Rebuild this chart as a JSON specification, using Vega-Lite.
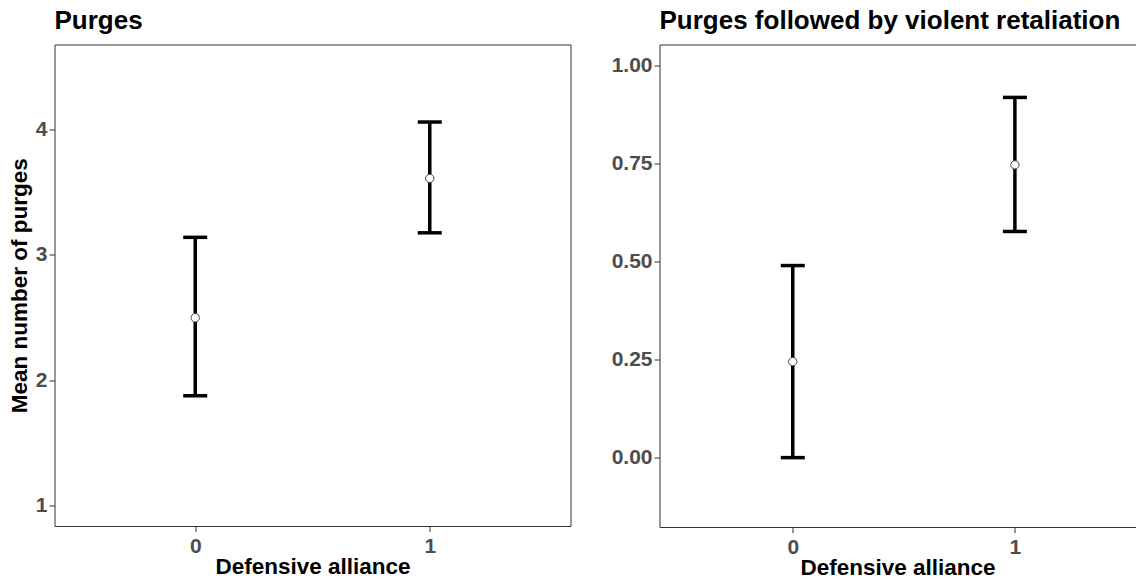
{
  "$schema": "https://vega.github.io/schema/vega-lite/v6.json",
  "padding": {"left": 7.5, "top": 6.5, "right": 0, "bottom": 0},
  "background": "white",
  "bounds": "flush",
  "spacing": 89,
  "config": {
    "font": "Liberation Sans",
    "view": {"stroke": "#333333", "strokeWidth": 1},
    "axis": {
      "grid": false,
      "labelFont": "Liberation Sans",
      "labelFontSize": 21,
      "labelFontWeight": "bold",
      "labelColor": "#4D4D4D",
      "tickColor": "#333333",
      "tickSize": 5.5,
      "tickWidth": 1,
      "domainColor": "#333333",
      "titleFont": "Liberation Sans",
      "titleFontSize": 22.5,
      "titleFontWeight": "bold",
      "titleColor": "#000000"
    },
    "axisY": {"labelPadding": 2, "titlePadding": 4},
    "axisX": {"labelPadding": 3.5, "titlePadding": -0.5},
    "title": {"font": "Liberation Sans", "fontSize": 26, "fontWeight": "bold", "color": "#000000", "anchor": "start", "frame": "group", "baseline": "alphabetic", "offset": 11}
  },
  "hconcat": [
    {
      "width": 516,
      "height": 481.5,
      "title": {"text": "Purges"},
      "data": {"values": [
        {"alliance": 0, "mean": 2.498, "lo": 1.876, "hi": 3.139},
        {"alliance": 1, "mean": 3.609, "lo": 3.175, "hi": 4.058}
      ]},
      "encoding": {
        "x": {"field": "alliance", "type": "quantitative", "title": "Defensive alliance",
              "scale": {"domain": [-0.6, 1.6], "nice": false, "zero": false},
              "axis": {"values": [0, 1], "format": "d", "domain": false}}
      },
      "layer": [
        {
          "mark": {"type": "rule", "strokeWidth": 3.5, "color": "#000000"},
          "encoding": {
            "y": {"field": "lo", "type": "quantitative", "title": "Mean number of purges",
                  "scale": {"domain": [0.838, 4.676], "nice": false, "zero": false},
                  "axis": {"values": [1, 2, 3, 4], "format": "d", "domain": false}},
            "y2": {"field": "hi"}
          }
        },
        {
          "mark": {"type": "tick", "orient": "horizontal", "size": 24, "thickness": 3.5, "color": "#000000", "opacity": 1},
          "encoding": {"y": {"field": "lo", "type": "quantitative", "title": "Mean number of purges"}}
        },
        {
          "mark": {"type": "tick", "orient": "horizontal", "size": 24, "thickness": 3.5, "color": "#000000", "opacity": 1},
          "encoding": {"y": {"field": "hi", "type": "quantitative", "title": "Mean number of purges"}}
        },
        {
          "mark": {"type": "point", "shape": "circle", "filled": true, "fill": "#FFFFFF", "stroke": "#444444", "strokeWidth": 1, "size": 70, "opacity": 1},
          "encoding": {"y": {"field": "mean", "type": "quantitative", "title": "Mean number of purges"}}
        }
      ]
    },
    {
      "width": 476,
      "height": 482.5,
      "title": {"text": "Purges followed by violent retaliation"},
      "view": {"stroke": null},
      "data": {"values": [
        {"alliance": 0, "mean": 0.245, "lo": 0.0, "hi": 0.49},
        {"alliance": 1, "mean": 0.747, "lo": 0.577, "hi": 0.919}
      ]},
      "resolve": {"axis": {"x": "independent"}},
      "layer": [
        {
          "mark": {"type": "rule", "strokeWidth": 3.5, "color": "#000000"},
          "encoding": {
            "x": {"field": "alliance", "type": "quantitative", "title": "Defensive alliance",
                  "scale": {"domain": [-0.6, 1.543], "nice": false, "zero": false},
                  "axis": {"values": [0, 1], "format": "d", "domain": true}},
            "y": {"field": "lo", "type": "quantitative", "title": null,
                  "scale": {"domain": [-0.177, 1.054], "nice": false, "zero": false},
                  "axis": {"values": [0, 0.25, 0.5, 0.75, 1], "format": ".2f", "domain": true}},
            "y2": {"field": "hi"}
          }
        },
        {
          "mark": {"type": "tick", "orient": "horizontal", "size": 24, "thickness": 3.5, "color": "#000000", "opacity": 1},
          "encoding": {
            "x": {"field": "alliance", "type": "quantitative", "title": null,
                  "axis": {"orient": "top", "labels": false, "ticks": false, "domain": true, "title": null}},
            "y": {"field": "lo", "type": "quantitative", "title": null}
          }
        },
        {
          "mark": {"type": "tick", "orient": "horizontal", "size": 24, "thickness": 3.5, "color": "#000000", "opacity": 1},
          "encoding": {
            "x": {"field": "alliance", "type": "quantitative", "title": null, "axis": null},
            "y": {"field": "hi", "type": "quantitative", "title": null}
          }
        },
        {
          "mark": {"type": "point", "shape": "circle", "filled": true, "fill": "#FFFFFF", "stroke": "#444444", "strokeWidth": 1, "size": 70, "opacity": 1},
          "encoding": {
            "x": {"field": "alliance", "type": "quantitative", "title": null, "axis": null},
            "y": {"field": "mean", "type": "quantitative", "title": null}
          }
        }
      ]
    }
  ]
}
